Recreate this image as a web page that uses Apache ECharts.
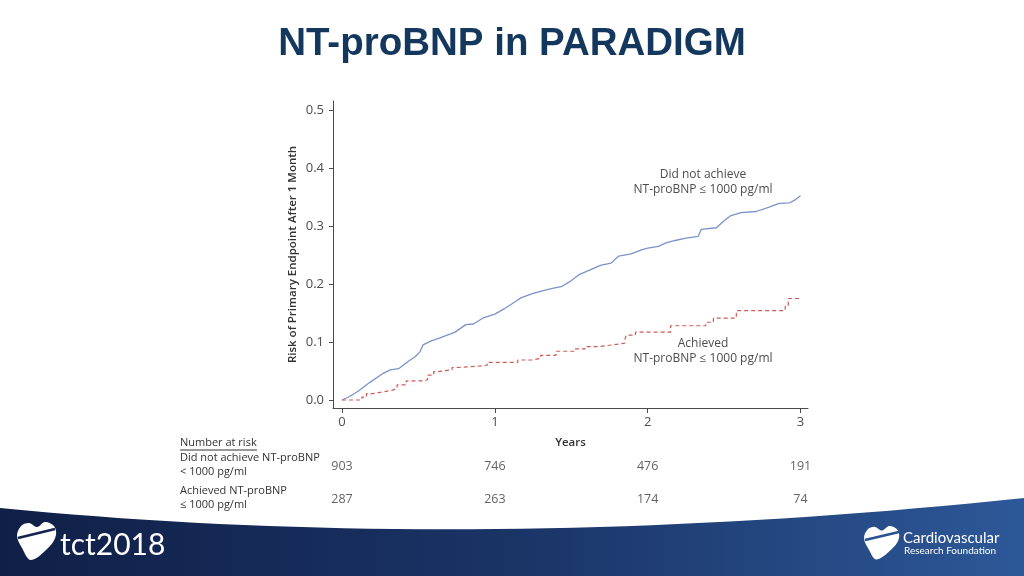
<!DOCTYPE html>
<html>
<head>
<meta charset="utf-8">
<style>
html,body{margin:0;padding:0;background:#fff;}
#chart{width:1024px;height:576px;}
</style>
<script src="https://cdn.jsdelivr.net/npm/echarts@6/dist/echarts.min.js"></script>
</head>
<body>
<div id="chart"></div>
<script>
// ---- data ----
const xTicks = [0, 1, 2, 3];
const yTicks = [0, 0.1, 0.2, 0.3, 0.4, 0.5];

const notAchievedX = [0,0.05,0.11,0.18,0.27,0.315,0.37,0.43,0.48,0.51,0.53,0.585,0.65,0.74,0.81,0.86,0.92,1.0,1.06,1.13,1.17,1.24,1.31,1.37,1.44,1.49,1.55,1.62,1.69,1.76,1.81,1.89,1.96,2.0,2.07,2.12,2.18,2.25,2.33,2.35,2.45,2.5,2.545,2.61,2.71,2.79,2.86,2.93,2.97,3.0];
const notAchievedY = [0,0.006,0.016,0.03,0.046,0.052,0.054,0.066,0.075,0.083,0.095,0.102,0.108,0.117,0.13,0.131,0.141,0.148,0.157,0.169,0.176,0.183,0.188,0.192,0.196,0.204,0.216,0.224,0.232,0.236,0.248,0.252,0.259,0.262,0.265,0.271,0.275,0.279,0.282,0.294,0.297,0.309,0.318,0.323,0.325,0.332,0.339,0.340,0.346,0.352];

const achievedX = [0,0.13,0.16,0.2,0.27,0.33,0.36,0.42,0.54,0.56,0.6,0.63,0.72,0.75,0.88,0.95,1.15,1.25,1.3,1.4,1.52,1.59,1.68,1.77,1.85,1.86,1.92,2.15,2.38,2.43,2.58,2.9,2.92,3.0];
const achievedY = [0,0.005,0.011,0.014,0.017,0.02,0.026,0.033,0.035,0.043,0.049,0.052,0.056,0.058,0.06,0.065,0.069,0.072,0.077,0.084,0.088,0.092,0.095,0.098,0.104,0.112,0.117,0.128,0.134,0.141,0.154,0.162,0.175,0.175];

const riskRows = ['Did not achieve', 'Achieved'];
const atRiskNotAchieved = [903, 746, 476, 191];
const atRiskAchieved = [287, 263, 174, 74];

// ---- chart ----
const chart = echarts.init(document.getElementById('chart'));
const axisColor = '#4a4a4a';
const txtColor = '#4d4d4d';
const font = 'Open Sans';

const zip = (xs, ys) => xs.map((x, i) => [x, ys[i]]);

const riskData = [];
xTicks.forEach((x, i) => {
  riskData.push([x, 0, atRiskNotAchieved[i]]);
  riskData.push([x, 1, atRiskAchieved[i]]);
});

// footer band outline (decoration)
const bandPts = [];
for (let i = 0; i <= 40; i++) {
  const t = i / 40;
  const x = 2 * (1 - t) * t * 480 + t * t * 1024;
  const y = (1 - t) * (1 - t) * 508 + 2 * (1 - t) * t * 555 + t * t * 498;
  bandPts.push([x, y]);
}
bandPts.push([1024, 576], [0, 576]);

const heartPts = [[20, 5], [28, 0], [37, 4], [39, 13], [33, 24], [14, 38], [5, 26], [0, 14], [4, 4], [12, 1]];

chart.setOption({
  animation: false,
  title: {
    text: 'NT-proBNP in PARADIGM',
    left: 'center',
    top: 20,
    textStyle: {fontFamily: 'Liberation Sans', fontWeight: 'bold', fontSize: 38.5, color: '#14375e'}
  },
  grid: [
    {left: 333, width: 475, top: 101, height: 307},
    {left: 333, width: 475, top: 450, height: 66}
  ],
  xAxis: [
    {
      gridIndex: 0, type: 'value', min: -0.059, max: 3.049,
      name: 'Years', nameLocation: 'middle', nameGap: 29,
      nameTextStyle: {fontFamily: font, fontSize: 11.5, color: '#333', fontWeight: 600},
      splitLine: {show: false},
      axisLine: {onZero: false, lineStyle: {color: axisColor, width: 1}},
      axisTick: {show: true, customValues: xTicks, length: 5, lineStyle: {color: axisColor}},
      axisLabel: {customValues: xTicks, margin: 8, fontFamily: font, fontSize: 13, color: txtColor,
        formatter: v => String(Math.round(v))}
    },
    {
      gridIndex: 1, type: 'value', min: -0.059, max: 3.049, show: false
    }
  ],
  yAxis: [
    {
      gridIndex: 0, type: 'value', min: -0.0138, max: 0.5155,
      name: 'Risk of Primary Endpoint After 1 Month', nameLocation: 'middle', nameGap: 34,
      nameTextStyle: {fontFamily: font, fontSize: 11.5, color: '#333', fontWeight: 600},
      splitLine: {show: false},
      axisLine: {onZero: false, lineStyle: {color: axisColor, width: 1}},
      axisTick: {show: true, customValues: yTicks, length: 4, lineStyle: {color: axisColor}},
      axisLabel: {customValues: yTicks, margin: 9, fontFamily: font, fontSize: 13, color: txtColor,
        formatter: v => v.toFixed(1)}
    },
    {
      gridIndex: 1, type: 'value', min: -0.5, max: 1.5, inverse: true, show: false
    }
  ],
  series: [
    {
      name: 'Did not achieve', type: 'line', xAxisIndex: 0, yAxisIndex: 0,
      data: zip(notAchievedX, notAchievedY), showSymbol: false, symbol: 'none',
      lineStyle: {color: '#7b93c9', width: 1.3}
    },
    {
      name: 'Achieved', type: 'line', step: 'end', xAxisIndex: 0, yAxisIndex: 0,
      data: zip(achievedX, achievedY), showSymbol: false, symbol: 'none',
      lineStyle: {color: '#cf5b57', width: 1.2, type: [4, 3]}
    },
    {
      name: 'At risk', type: 'scatter', xAxisIndex: 1, yAxisIndex: 1,
      data: riskData, symbolSize: 2, itemStyle: {color: 'rgba(0,0,0,0)'},
      label: {show: true, position: 'inside', formatter: p => String(p.value[2]),
        fontFamily: font, fontSize: 12.5, color: '#3a3a3a'}
    }
  ],
  graphic: [
    {type: 'text', x: 703, y: 182, style: {text: 'Did not achieve\nNT-proBNP \u2264 1000 pg/ml', fontFamily: font, fontSize: 12, lineHeight: 15, fill: txtColor, align: 'center', verticalAlign: 'middle'}},
    {type: 'text', x: 703, y: 351, style: {text: 'Achieved\nNT-proBNP \u2264 1000 pg/ml', fontFamily: font, fontSize: 12, lineHeight: 15, fill: txtColor, align: 'center', verticalAlign: 'middle'}},
    {type: 'text', x: 180, y: 443, style: {text: 'Number at risk', fontFamily: font, fontSize: 11, fill: '#333', verticalAlign: 'middle'}},
    {type: 'line', shape: {x1: 180, y1: 450, x2: 257, y2: 450}, style: {stroke: '#333', lineWidth: 1}},
    {type: 'text', x: 180, y: 465, style: {text: 'Did not achieve NT-proBNP\n< 1000 pg/ml', fontFamily: font, fontSize: 11, lineHeight: 14, fill: '#333', verticalAlign: 'middle'}},
    {type: 'text', x: 180, y: 498, style: {text: 'Achieved NT-proBNP\n\u2264 1000 pg/ml', fontFamily: font, fontSize: 11, lineHeight: 14, fill: '#333', verticalAlign: 'middle'}},
    // footer band
    {type: 'polygon', shape: {points: bandPts}, z: -1,
      style: {fill: new echarts.graphic.LinearGradient(0, 0, 1, 0, [
        {offset: 0, color: '#101f47'}, {offset: 0.5, color: '#1a3466'}, {offset: 1, color: '#2d5898'}])}},
    // tct logo
    {type: 'polygon', x: 17, y: 522, shape: {points: heartPts, smooth: 0.35}, style: {fill: '#ffffff'}},
    {type: 'line', shape: {x1: 18, y1: 538, x2: 55, y2: 529}, style: {stroke: '#14244c', lineWidth: 2.5}},
    {type: 'text', x: 60, y: 545, style: {text: 'tct2018', fontFamily: 'Lato', fontSize: 30, fill: '#ffffff', verticalAlign: 'middle'}},
    // CRF logo
    {type: 'polygon', x: 864, y: 526, scaleX: 0.9, scaleY: 0.88, shape: {points: heartPts, smooth: 0.35}, style: {fill: '#ffffff'}},
    {type: 'line', shape: {x1: 865, y1: 540, x2: 899, y2: 532}, style: {stroke: '#2a5291', lineWidth: 2.5}},
    {type: 'text', x: 903, y: 538, style: {text: 'Cardiovascular', fontFamily: 'Lato', fontSize: 15, fill: '#ffffff', verticalAlign: 'middle'}},
    {type: 'text', x: 904, y: 551, style: {text: 'Research Foundation', fontFamily: 'Lato', fontSize: 10, fill: '#ffffff', verticalAlign: 'middle'}}
  ]
});
</script>
</body>
</html>
